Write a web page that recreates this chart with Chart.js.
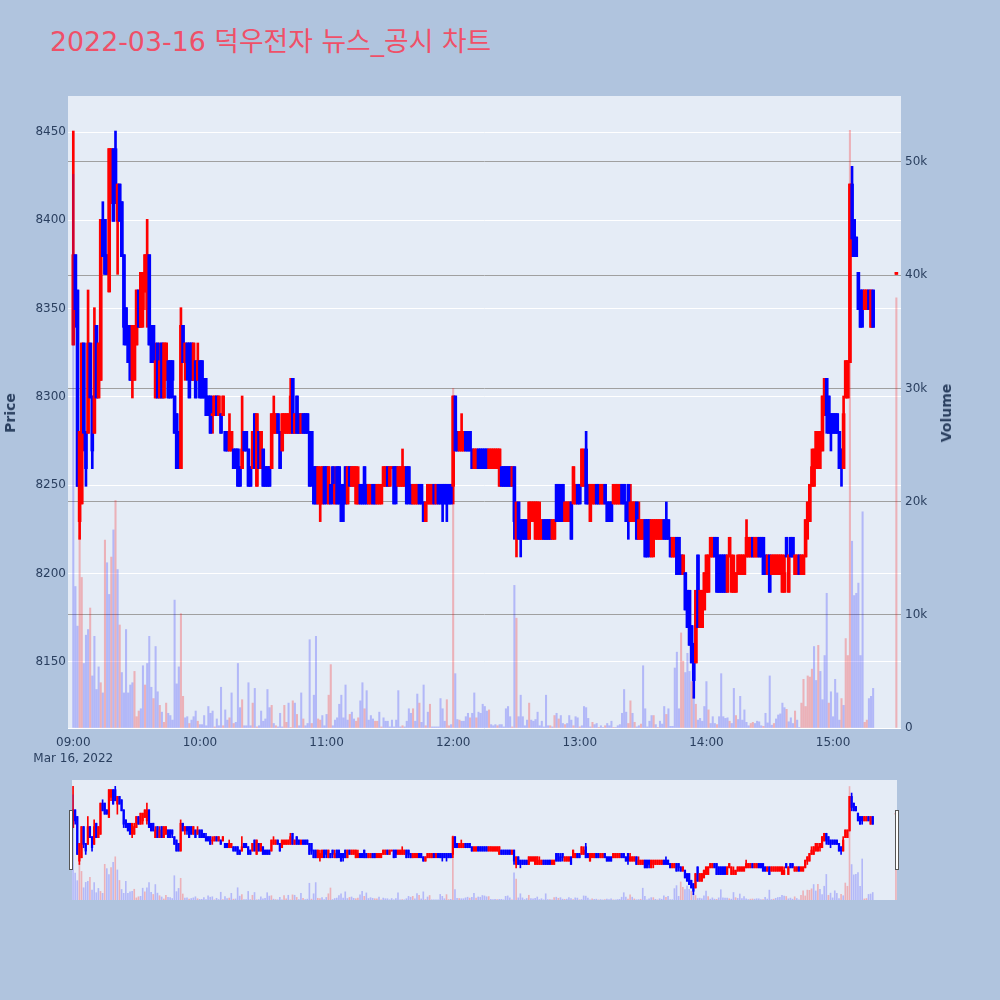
<!DOCTYPE html>
<html><head><meta charset="utf-8">
<script src="https://cdn.jsdelivr.net/npm/chart.js@4.4.1/dist/chart.umd.min.js"></script>
<style>
html,body{margin:0;padding:0;background:#b0c4de;width:1000px;height:1000px;overflow:hidden;}
#title{position:absolute;left:50px;top:22px;font-family:"DejaVu Sans","Noto Sans CJK KR",sans-serif;font-size:26.8px;color:#ef5068;white-space:nowrap;line-height:40px;}
#main{position:absolute;left:0;top:0;}
#slider{position:absolute;left:72px;top:780px;background:#e5ecf6;}
.axt{position:absolute;font-family:"DejaVu Sans",sans-serif;font-weight:bold;font-size:14px;color:#2a3f5f;white-space:nowrap;transform:translate(-50%,-50%) rotate(-90deg);}
.handle{position:absolute;width:2px;height:58px;background:#fff;border:1px solid #555;}
</style></head><body>
<div id="title">2022-03-16 덕우전자 뉴스_공시 차트</div>
<canvas id="main" width="1000" height="775"></canvas>
<canvas id="slider" width="825" height="120"></canvas>
<div class="axt" style="left:10px;top:413px;">Price</div>
<div class="axt" style="left:946px;top:413px;">Volume</div>
<div class="handle" style="left:69px;top:810px;"></div>
<div class="handle" style="left:895px;top:810px;"></div>
<script>
// ---------- data (minute candles, minutes after 09:00) ----------
const lastContinuousMinute = 379;   // 15:19
const closingAuctionMinute = 390;   // 15:30
const minutes = [];
for (let m = 0; m <= lastContinuousMinute; m++) minutes.push(m);
minutes.push(closingAuctionMinute);

const open = [
8330,8380,8360,8230,8240,8330,8280,8280,8330,8300,
8280,8340,8300,8310,8400,8400,8380,8360,8420,8440,
8440,8400,8420,8410,8380,8350,8340,8340,8310,8310,
8330,8360,8340,8350,8360,8350,8380,8340,8340,8300,
8330,8300,8330,8300,8310,8320,8320,8320,8300,8290,
8280,8260,8340,8320,8330,8330,8330,8310,8320,8310,
8320,8320,8310,8300,8300,8300,8290,8290,8300,8290,
8290,8290,8280,8280,8270,8270,8270,8270,8270,8260,
8260,8280,8280,8270,8260,8260,8290,8250,8280,8260,
8270,8260,8260,8260,8260,8280,8280,8290,8280,8270,
8280,8280,8280,8280,8310,8280,8300,8290,8280,8290,
8290,8290,8280,8280,8260,8260,8240,8240,8240,8260,
8260,8240,8250,8260,8240,8260,8260,8250,8250,8260,
8240,8260,8250,8250,8240,8240,8250,8250,8260,8250,
8240,8240,8250,8250,8240,8240,8240,8250,8250,8260,
8250,8260,8260,8260,8250,8250,8250,8250,8260,8260,
8250,8240,8240,8240,8250,8250,8240,8230,8240,8240,
8240,8250,8240,8250,8250,8250,8250,8250,8250,8250,
8250,8300,8280,8270,8270,8270,8280,8280,8280,8270,
8260,8260,8270,8270,8270,8270,8270,8260,8260,8260,
8260,8260,8250,8260,8260,8260,8260,8260,8250,8260,
8220,8240,8230,8230,8230,8230,8220,8230,8230,8220,
8220,8220,8220,8230,8230,8230,8230,8220,8220,8250,
8250,8240,8250,8230,8230,8230,8240,8240,8240,8250,
8250,8250,8250,8270,8250,8230,8240,8240,8250,8250,
8240,8240,8250,8240,8240,8240,8240,8240,8240,8240,
8250,8250,8240,8250,8230,8230,8230,8240,8220,8220,
8220,8230,8230,8230,8210,8220,8220,8220,8220,8220,
8230,8230,8230,8220,8210,8210,8220,8220,8210,8200,
8200,8190,8190,8170,8160,8150,8210,8170,8170,8180,
8190,8190,8210,8210,8220,8220,8210,8210,8210,8210,
8190,8210,8190,8190,8190,8200,8200,8200,8200,8210,
8210,8210,8220,8210,8210,8220,8220,8220,8210,8200,
8210,8200,8200,8200,8200,8200,8190,8190,8220,8190,
8220,8220,8200,8200,8210,8200,8200,8210,8230,8230,
8250,8250,8260,8260,8270,8270,8290,8310,8300,8290,
8290,8290,8290,8280,8270,8260,8300,8300,8320,8420,
8400,8390,8370,8360,8360,8350,8350,8360,8340,8360,
8370];
const high = [
8450,8380,8360,8280,8330,8330,8280,8360,8330,8300,
8350,8340,8330,8400,8410,8400,8380,8440,8440,8440,
8450,8420,8420,8410,8380,8350,8340,8340,8340,8340,
8360,8360,8370,8370,8380,8400,8380,8340,8340,8330,
8330,8330,8330,8330,8330,8320,8320,8320,8300,8290,
8280,8350,8340,8330,8330,8330,8330,8330,8320,8330,
8320,8320,8310,8310,8300,8300,8300,8300,8300,8300,
8290,8300,8280,8280,8290,8280,8270,8270,8270,8260,
8300,8280,8280,8270,8260,8280,8290,8290,8280,8280,
8270,8260,8260,8260,8290,8300,8290,8290,8280,8290,
8290,8290,8290,8310,8310,8290,8300,8290,8290,8290,
8290,8290,8280,8280,8260,8260,8260,8260,8260,8260,
8260,8260,8250,8260,8260,8260,8260,8250,8250,8260,
8260,8260,8260,8260,8260,8260,8250,8250,8260,8250,
8250,8250,8250,8250,8250,8250,8250,8260,8260,8260,
8260,8260,8260,8260,8260,8260,8270,8260,8260,8260,
8250,8250,8250,8250,8250,8250,8240,8240,8250,8250,
8250,8250,8250,8250,8250,8250,8250,8250,8250,8250,
8300,8300,8280,8280,8290,8280,8280,8280,8280,8270,
8270,8270,8270,8270,8270,8270,8270,8270,8270,8270,
8270,8270,8270,8260,8260,8260,8260,8260,8260,8260,
8240,8240,8230,8230,8230,8230,8240,8240,8240,8240,
8240,8240,8230,8230,8230,8230,8230,8230,8230,8250,
8250,8250,8250,8240,8240,8240,8240,8260,8250,8250,
8250,8270,8270,8280,8250,8250,8250,8250,8250,8250,
8250,8250,8250,8240,8240,8240,8250,8250,8250,8250,
8250,8250,8240,8250,8250,8240,8240,8240,8240,8230,
8230,8230,8230,8230,8230,8230,8230,8230,8230,8230,
8230,8240,8230,8220,8220,8220,8220,8220,8210,8210,
8200,8190,8190,8170,8160,8190,8210,8190,8190,8200,
8210,8210,8220,8220,8220,8220,8210,8210,8210,8210,
8210,8220,8210,8210,8200,8210,8210,8210,8210,8230,
8220,8220,8220,8220,8220,8220,8220,8220,8210,8210,
8210,8210,8210,8210,8210,8210,8210,8210,8220,8210,
8220,8220,8210,8210,8210,8210,8210,8230,8240,8250,
8270,8270,8280,8280,8280,8300,8310,8310,8300,8290,
8290,8290,8290,8280,8270,8300,8320,8320,8420,8430,
8400,8390,8370,8360,8360,8360,8360,8360,8360,8360,
8370];
const low = [
8330,8340,8250,8220,8240,8270,8250,8280,8300,8260,
8280,8300,8300,8310,8380,8370,8370,8360,8410,8400,
8410,8370,8400,8380,8330,8330,8320,8310,8300,8310,
8330,8340,8340,8340,8360,8340,8330,8320,8320,8300,
8300,8300,8300,8300,8310,8300,8300,8300,8280,8260,
8260,8260,8320,8310,8310,8300,8310,8310,8300,8310,
8300,8300,8300,8290,8290,8280,8280,8290,8290,8290,
8280,8290,8270,8270,8270,8270,8260,8260,8250,8250,
8260,8270,8270,8250,8250,8260,8260,8250,8260,8260,
8250,8250,8250,8250,8260,8280,8280,8280,8260,8270,
8280,8280,8280,8280,8280,8280,8280,8280,8280,8280,
8280,8280,8250,8250,8240,8240,8240,8230,8240,8240,
8240,8240,8240,8240,8240,8240,8240,8230,8230,8240,
8240,8250,8250,8250,8240,8240,8240,8240,8240,8240,
8240,8240,8240,8240,8240,8240,8240,8250,8250,8250,
8250,8260,8240,8240,8250,8250,8250,8250,8240,8240,
8240,8240,8240,8240,8240,8240,8230,8230,8240,8240,
8240,8240,8240,8240,8240,8230,8240,8230,8240,8240,
8240,8270,8270,8270,8270,8270,8270,8270,8270,8260,
8260,8260,8260,8260,8260,8260,8260,8260,8260,8260,
8260,8260,8250,8250,8250,8250,8250,8250,8250,8220,
8210,8220,8210,8220,8220,8220,8220,8230,8230,8220,
8220,8220,8220,8220,8220,8220,8220,8220,8220,8230,
8230,8230,8230,8230,8230,8230,8220,8240,8240,8240,
8240,8250,8250,8240,8240,8230,8240,8240,8240,8240,
8240,8240,8240,8230,8230,8230,8240,8240,8240,8240,
8240,8240,8230,8220,8230,8230,8230,8220,8220,8220,
8220,8210,8210,8210,8210,8210,8220,8220,8220,8220,
8220,8220,8220,8210,8210,8210,8200,8200,8200,8200,
8180,8170,8160,8150,8130,8150,8170,8170,8170,8180,
8190,8190,8210,8210,8210,8190,8190,8190,8190,8190,
8190,8210,8190,8190,8190,8200,8200,8200,8200,8210,
8210,8210,8210,8210,8210,8210,8210,8200,8200,8200,
8190,8200,8200,8200,8200,8200,8190,8190,8210,8190,
8210,8210,8200,8200,8200,8200,8200,8210,8220,8230,
8250,8250,8260,8260,8260,8270,8290,8280,8280,8270,
8280,8280,8280,8260,8250,8260,8300,8300,8320,8380,
8380,8380,8350,8340,8340,8350,8350,8350,8340,8340,
8370];
const close = [
8380,8350,8250,8280,8330,8280,8260,8330,8300,8270,
8330,8300,8330,8400,8380,8370,8370,8440,8440,8400,
8410,8420,8400,8380,8340,8330,8320,8310,8340,8330,
8360,8340,8370,8370,8380,8380,8330,8320,8320,8320,
8300,8320,8300,8330,8330,8300,8300,8310,8280,8260,
8260,8340,8320,8330,8320,8300,8310,8330,8300,8320,
8300,8300,8300,8290,8290,8280,8290,8300,8290,8300,
8280,8300,8270,8270,8280,8280,8260,8260,8250,8250,
8270,8270,8270,8250,8250,8280,8260,8290,8260,8280,
8250,8250,8250,8250,8290,8290,8290,8280,8260,8290,
8290,8290,8290,8300,8280,8290,8280,8280,8290,8280,
8280,8280,8250,8260,8240,8240,8260,8250,8260,8240,
8250,8260,8240,8250,8250,8240,8240,8230,8240,8240,
8260,8250,8260,8260,8260,8250,8240,8240,8240,8240,
8250,8250,8240,8240,8250,8250,8250,8260,8260,8250,
8260,8260,8240,8250,8260,8260,8260,8260,8240,8250,
8240,8250,8250,8250,8240,8240,8230,8240,8250,8250,
8250,8240,8250,8240,8240,8240,8240,8240,8240,8240,
8300,8270,8270,8280,8280,8280,8270,8270,8270,8260,
8270,8270,8260,8260,8260,8260,8260,8270,8270,8270,
8270,8270,8270,8250,8250,8250,8250,8250,8260,8230,
8240,8220,8220,8220,8220,8220,8240,8240,8240,8240,
8240,8230,8230,8220,8220,8220,8220,8230,8230,8230,
8230,8230,8240,8240,8240,8240,8220,8260,8250,8240,
8240,8270,8260,8240,8240,8250,8250,8250,8240,8240,
8250,8250,8240,8230,8230,8230,8250,8250,8250,8250,
8240,8240,8230,8230,8240,8240,8240,8220,8230,8230,
8230,8210,8210,8220,8230,8230,8230,8230,8230,8230,
8220,8220,8220,8210,8220,8220,8200,8210,8200,8210,
8180,8170,8160,8150,8140,8190,8170,8190,8190,8200,
8210,8210,8220,8220,8210,8190,8190,8190,8190,8190,
8210,8220,8210,8200,8200,8210,8210,8210,8210,8220,
8220,8220,8210,8220,8220,8210,8210,8200,8200,8210,
8190,8210,8210,8210,8210,8210,8210,8200,8210,8210,
8210,8210,8210,8210,8200,8210,8210,8230,8240,8250,
8260,8270,8280,8270,8280,8300,8310,8290,8280,8280,
8280,8280,8280,8260,8260,8290,8320,8320,8420,8390,
8380,8380,8350,8340,8350,8360,8360,8350,8360,8340,
8370];
const volume = [
48900,12500,9000,17000,13300,5700,8200,8700,10600,4600,
8100,3400,5400,4000,3100,16600,14600,11800,15100,17500,
20100,14000,9100,4900,3100,8700,3100,3800,4000,5000,
1000,1500,1700,5500,3800,5700,8100,3600,2600,7200,
3200,2000,1400,500,2200,1300,1100,700,11300,3900,
5400,10100,2800,900,1000,400,700,1000,1500,600,
300,300,1100,200,1900,1300,1500,100,800,200,
3600,200,1600,700,900,3100,400,500,5700,1800,
2500,200,200,4000,200,2200,3500,100,200,1500,
600,800,3400,1800,2000,400,200,100,1300,100,
2000,500,2200,50,2400,2200,1200,200,3100,800,
200,400,7800,400,2900,8100,800,700,1100,200,
1200,2900,5600,200,700,900,2100,2900,900,3800,
700,1200,1400,800,600,900,2400,4000,1700,3300,
700,1100,800,600,600,1400,100,900,600,600,
100,700,100,700,3300,100,200,100,600,1700,
1300,1700,600,3000,2200,500,3800,200,1400,2100,
100,100,100,100,2600,1700,600,2500,200,300,
30000,4800,750,700,600,600,1000,1300,900,1300,
3100,900,1400,1300,2100,1900,1500,1600,300,200,
300,200,300,300,100,1700,1900,1000,100,12600,
9700,1000,2900,1000,200,700,2200,700,600,750,
1400,200,600,100,2900,200,200,100,1100,1300,
800,1100,400,300,400,1100,700,200,1000,900,
100,200,1900,1800,850,100,500,300,400,50,
200,50,200,400,200,600,50,50,200,300,
1300,3400,1400,400,2400,1300,500,100,200,350,
5500,1700,100,600,1100,1100,300,50,600,350,
1900,1200,1700,150,150,5300,6700,1700,8400,5900,
4900,6600,5000,4100,2800,2100,700,850,600,1900,
4100,1600,400,1000,400,300,1000,4800,1000,850,
900,600,400,3500,1100,750,2800,700,1600,500,
200,400,500,400,600,550,200,150,1300,450,
4600,250,400,800,1150,1250,2200,1800,1650,550,
900,400,1500,700,50,2200,4300,1900,4600,4500,
5200,7200,4200,7300,5000,2500,6400,11900,2200,3200,
1000,4300,3100,700,2600,2000,7900,6400,52800,16500,
11700,11900,12800,6400,19100,500,700,2600,2800,3500,
38000];
// r = buy-side (red) volume bar, b = sell-side (blue) volume bar
const volumeSide = (
"bbbrrbbbrb"+"bbbrbrbbrb"+"rbrbbbbbbr"+"rrbbrbbbrb"+"brbrrbbbbb"+
"brrbbrbbbr"+"bbbbbbbrbb"+"brbbrbrbbb"+"rbbbbrbrbb"+"bbbbrbrbbb"+
"rrbrrbrbbr"+"bbbrbbrrbb"+"brrbbbbbbb"+"brbbrrbbrb"+"bbbrrbrbbb"+
"bbbbbbrbbb"+"brbbrbbrbr"+"bbbbbbbrrb"+"rbbrbbbbrb"+"brbbbbbrbb"+
"brbbbbbbrb"+"rbbbbbrbbb"+"bbbbbbrbrb"+"rbbrbbbrbb"+"rbbbbbrbbr"+
"bbrbbbrbbb"+"bbbrrbrbbr"+"bbbbbrbrbb"+"brbbbbbbrr"+"bbbrbrbbbb"+
"brbbbrbbbb"+"brbbrbbbbb"+"brrbbbbrbb"+"bbrbbbbbrb"+"bbrbbrrrrr"+
"rbbrbbbbrb"+"bbbbrbrrrb"+"bbbbbrrbbb"+"r").split('');

const priceTicks = [8150,8200,8250,8300,8350,8400,8450];
const volumeTicks = [0,10000,20000,30000,40000,50000];
const volumeTickLabels = ['0','10k','20k','30k','40k','50k'];
const timeTicks = [0,60,120,180,240,300,360];
const timeTickLabels = ['09:00','10:00','11:00','12:00','13:00','14:00','15:00'];
const dateLabel = 'Mar 16, 2022';

// ---------- styles ----------
const UP = '#ff0000', DOWN = '#0000ff';
const VOL_UP = 'rgba(255,0,0,0.25)', VOL_DOWN = 'rgba(0,0,255,0.22)';
const TICK_COLOR = '#2a3f5f';
const PRICE_MIN = 8112.6, PRICE_MAX = 8470.4, VOL_MAX = 55830;

const candleColors = minutes.map((m,i) => close[i] >= open[i] ? UP : DOWN);
const volColors = volumeSide.map(s => s === 'r' ? VOL_UP : VOL_DOWN);

function makeDatasets(pad, wickW, bodyW, volW) {
  return [
    { label:'volume', yAxisID:'yv', grouped:false, order:0,
      data: minutes.map((m,i) => ({x:m, y:volume[i]})),
      backgroundColor: volColors, barThickness: volW },
    { label:'body', yAxisID:'y', grouped:false, order:1,
      data: minutes.map((m,i) => ({x:m, y:[Math.min(open[i],close[i]) - pad, Math.max(open[i],close[i]) + pad]})),
      backgroundColor: candleColors, barThickness: bodyW },
    { label:'wick', yAxisID:'y', grouped:false, order:2,
      data: minutes.map((m,i) => ({x:m, y:[low[i] - pad, high[i] + pad]})),
      backgroundColor: candleColors, barThickness: wickW }
  ];
}

const plotBg = {
  id:'plotBg',
  beforeDraw(chart) {
    const {ctx, chartArea:a} = chart;
    ctx.save(); ctx.fillStyle = '#e5ecf6';
    ctx.fillRect(a.left, a.top, a.right - a.left, a.bottom - a.top);
    ctx.restore();
  }
};

const tickFont = {family:'DejaVu Sans', size:12, lineHeight:1.35};

new Chart(document.getElementById('main'), {
  type:'bar',
  data:{ datasets: makeDatasets(0.57, 2, 3, 1.4) },
  plugins:[plotBg],
  options:{
    responsive:false, animation:false, devicePixelRatio:1,
    layout:{ padding:{ left:0, right:0, top:96, bottom:7 } },
    plugins:{ legend:{display:false}, tooltip:{enabled:false} },
    scales:{
      x:{ type:'linear', min:-2.51, max:392.2, offset:false,
          grid:{display:false, drawTicks:false}, border:{display:false},
          afterBuildTicks: s => { s.ticks = timeTicks.map(v => ({value:v})); },
          afterFit: s => { s.height = 40; },
          ticks:{ autoSkip:false, maxRotation:0, color:TICK_COLOR, font:tickFont, padding:7,
            callback: v => { const k = timeTicks.indexOf(v); if (k < 0) return ''; return k === 0 ? [timeTickLabels[0], dateLabel] : timeTickLabels[k]; } } },
      y:{ type:'linear', position:'left', min:PRICE_MIN, max:PRICE_MAX,
          grid:{ color:'#ffffff', lineWidth:1, drawTicks:false }, border:{display:false},
          afterBuildTicks: s => { s.ticks = priceTicks.map(v => ({value:v})); },
          afterFit: s => { s.width = 68; },
          ticks:{ color:TICK_COLOR, font:tickFont, padding:2, callback: v => String(v) } },
      yv:{ type:'linear', position:'right', min:0, max:VOL_MAX,
          grid:{ color: c => c.tick && c.tick.value === 0 ? '#ffffff' : '#a0a0a0', lineWidth:1, drawTicks:false }, border:{display:false},
          afterBuildTicks: s => { s.ticks = volumeTicks.map(v => ({value:v})); },
          afterFit: s => { s.width = 99; },
          ticks:{ color:TICK_COLOR, font:tickFont, padding:4, callback: v => volumeTickLabels[volumeTicks.indexOf(v)] } }
    }
  }
});

new Chart(document.getElementById('slider'), {
  type:'bar',
  data:{ datasets: makeDatasets(1.5, 1, 1.6, 1) },
  options:{
    responsive:false, animation:false, devicePixelRatio:1,
    layout:{ padding:0 },
    plugins:{ legend:{display:false}, tooltip:{enabled:false} },
    scales:{
      x:{ type:'linear', display:false, min:-0.5, max:390.5, offset:false },
      y:{ type:'linear', display:false, min:PRICE_MIN, max:PRICE_MAX },
      yv:{ type:'linear', display:false, min:0, max:VOL_MAX }
    }
  }
});
</script>
</body></html>
